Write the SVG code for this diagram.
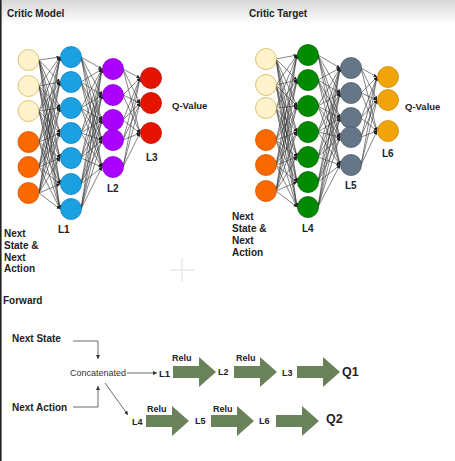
<svg xmlns="http://www.w3.org/2000/svg" width="455" height="461" viewBox="0 0 455 461">
<defs>
<linearGradient id="band" x1="0" y1="0" x2="0" y2="1"><stop offset="0" stop-color="#d6d6d6"/><stop offset="1" stop-color="#ffffff"/></linearGradient>
<marker id="ah" viewBox="0 0 4 4" refX="4" refY="2" markerWidth="3.5" markerHeight="3.5" markerUnits="userSpaceOnUse" orient="auto"><path d="M0 0L4 2L0 4z" fill="#222"/></marker>
<marker id="ah2" viewBox="0 0 4 4" refX="4" refY="2" markerWidth="4" markerHeight="4" markerUnits="userSpaceOnUse" orient="auto"><path d="M0 0L4 2L0 4z" fill="#333"/></marker>
<path id="blk" d="M0 -6L26 -6L26 -15L43 0L26 15L26 6L0 6Z"/>
</defs>
<style>
.t{font-family:"Liberation Sans",Arial,sans-serif;font-weight:bold;font-size:10px;fill:#222;dominant-baseline:central}
.s{font-size:9.5px}
.r{font-size:9px}
.q{font-size:12.5px}
.cc{font-family:"Liberation Sans",Arial,sans-serif;font-size:9px;fill:#333;dominant-baseline:central}
.w path{fill:none;stroke:#333;stroke-width:0.6;marker-end:url(#ah)}
.fc path,.fc polyline{fill:none;stroke:#444;stroke-width:0.8;marker-end:url(#ah2)}
.bk{fill:#6a8259}
.pale{fill:#fff2cc;stroke:#d6b656;stroke-width:0.8}
.org{fill:#fa6800;stroke:#d45500;stroke-width:0.8}
.blu{fill:#1ba1e2;stroke:#0a7fc0;stroke-width:0.8}
.pur{fill:#aa00ff;stroke:#8a00d0;stroke-width:0.8}
.red{fill:#e51400;stroke:#c00e00;stroke-width:0.8}
.grn{fill:#008a00;stroke:#006a00;stroke-width:0.8}
.gry{fill:#647687;stroke:#4a5a6a;stroke-width:0.8}
.amb{fill:#f0a30a;stroke:#d08a00;stroke-width:0.8}
</style>
<rect x="0" y="0" width="455" height="461" fill="#ffffff"/>
<rect x="0" y="0" width="455" height="24" fill="url(#band)"/>
<line x1="0.8" y1="0" x2="0.8" y2="461" stroke="#222" stroke-width="1.6"/>
<g stroke="#e8e8e8" stroke-width="1.5"><line x1="170" y1="270" x2="194" y2="270"/><line x1="182" y1="258" x2="182" y2="282"/></g>

<text class="t" x="7" y="13">Critic Model</text>
<text class="t" x="249" y="13">Critic Target</text>

<g id="connectors">
<g class="w" id="net1-links">
<path d="M39 60 60 57"/><path d="M39 60 60 82"/><path d="M39 60 60 108"/><path d="M39 60 60 133"/><path d="M39 60 60 158"/><path d="M39 60 60 184"/><path d="M39 60 60 209"/>
<path d="M39 86 60 57"/><path d="M39 86 60 82"/><path d="M39 86 60 108"/><path d="M39 86 60 133"/><path d="M39 86 60 158"/><path d="M39 86 60 184"/><path d="M39 86 60 209"/>
<path d="M39 111 60 57"/><path d="M39 111 60 82"/><path d="M39 111 60 108"/><path d="M39 111 60 133"/><path d="M39 111 60 158"/><path d="M39 111 60 184"/><path d="M39 111 60 209"/>
<path d="M39 142 60 57"/><path d="M39 142 60 82"/><path d="M39 142 60 108"/><path d="M39 142 60 133"/><path d="M39 142 60 158"/><path d="M39 142 60 184"/><path d="M39 142 60 209"/>
<path d="M39 167 60 57"/><path d="M39 167 60 82"/><path d="M39 167 60 108"/><path d="M39 167 60 133"/><path d="M39 167 60 158"/><path d="M39 167 60 184"/><path d="M39 167 60 209"/>
<path d="M39 193 60 57"/><path d="M39 193 60 82"/><path d="M39 193 60 108"/><path d="M39 193 60 133"/><path d="M39 193 60 158"/><path d="M39 193 60 184"/><path d="M39 193 60 209"/>
<path d="M81 57 102 69"/><path d="M81 57 102 95"/><path d="M81 57 102 120"/><path d="M81 57 102 140"/><path d="M81 57 102 167"/>
<path d="M81 82 102 69"/><path d="M81 82 102 95"/><path d="M81 82 102 120"/><path d="M81 82 102 140"/><path d="M81 82 102 167"/>
<path d="M81 108 102 69"/><path d="M81 108 102 95"/><path d="M81 108 102 120"/><path d="M81 108 102 140"/><path d="M81 108 102 167"/>
<path d="M81 133 102 69"/><path d="M81 133 102 95"/><path d="M81 133 102 120"/><path d="M81 133 102 140"/><path d="M81 133 102 167"/>
<path d="M81 158 102 69"/><path d="M81 158 102 95"/><path d="M81 158 102 120"/><path d="M81 158 102 140"/><path d="M81 158 102 167"/>
<path d="M81 184 102 69"/><path d="M81 184 102 95"/><path d="M81 184 102 120"/><path d="M81 184 102 140"/><path d="M81 184 102 167"/>
<path d="M81 209 102 69"/><path d="M81 209 102 95"/><path d="M81 209 102 120"/><path d="M81 209 102 140"/><path d="M81 209 102 167"/>
<path d="M123 69 140 78"/><path d="M123 69 140 103"/><path d="M123 69 140 133"/>
<path d="M123 95 140 78"/><path d="M123 95 140 103"/><path d="M123 95 140 133"/>
<path d="M123 120 140 78"/><path d="M123 120 140 103"/><path d="M123 120 140 133"/>
<path d="M123 140 140 78"/><path d="M123 140 140 103"/><path d="M123 140 140 133"/>
<path d="M123 167 140 78"/><path d="M123 167 140 103"/><path d="M123 167 140 133"/>
</g>
<g class="w" id="net2-links">
<path d="M276 59 297 55"/><path d="M276 59 297 80"/><path d="M276 59 297 106"/><path d="M276 59 297 132"/><path d="M276 59 297 157"/><path d="M276 59 297 182"/><path d="M276 59 297 207"/>
<path d="M276 85 297 55"/><path d="M276 85 297 80"/><path d="M276 85 297 106"/><path d="M276 85 297 132"/><path d="M276 85 297 157"/><path d="M276 85 297 182"/><path d="M276 85 297 207"/>
<path d="M276 108 297 55"/><path d="M276 108 297 80"/><path d="M276 108 297 106"/><path d="M276 108 297 132"/><path d="M276 108 297 157"/><path d="M276 108 297 182"/><path d="M276 108 297 207"/>
<path d="M276 140 297 55"/><path d="M276 140 297 80"/><path d="M276 140 297 106"/><path d="M276 140 297 132"/><path d="M276 140 297 157"/><path d="M276 140 297 182"/><path d="M276 140 297 207"/>
<path d="M276 165 297 55"/><path d="M276 165 297 80"/><path d="M276 165 297 106"/><path d="M276 165 297 132"/><path d="M276 165 297 157"/><path d="M276 165 297 182"/><path d="M276 165 297 207"/>
<path d="M276 191 297 55"/><path d="M276 191 297 80"/><path d="M276 191 297 106"/><path d="M276 191 297 132"/><path d="M276 191 297 157"/><path d="M276 191 297 182"/><path d="M276 191 297 207"/>
<path d="M318 55 340 68"/><path d="M318 55 340 93"/><path d="M318 55 340 118"/><path d="M318 55 340 137"/><path d="M318 55 340 165"/>
<path d="M318 80 340 68"/><path d="M318 80 340 93"/><path d="M318 80 340 118"/><path d="M318 80 340 137"/><path d="M318 80 340 165"/>
<path d="M318 106 340 68"/><path d="M318 106 340 93"/><path d="M318 106 340 118"/><path d="M318 106 340 137"/><path d="M318 106 340 165"/>
<path d="M318 132 340 68"/><path d="M318 132 340 93"/><path d="M318 132 340 118"/><path d="M318 132 340 137"/><path d="M318 132 340 165"/>
<path d="M318 157 340 68"/><path d="M318 157 340 93"/><path d="M318 157 340 118"/><path d="M318 157 340 137"/><path d="M318 157 340 165"/>
<path d="M318 182 340 68"/><path d="M318 182 340 93"/><path d="M318 182 340 118"/><path d="M318 182 340 137"/><path d="M318 182 340 165"/>
<path d="M318 207 340 68"/><path d="M318 207 340 93"/><path d="M318 207 340 118"/><path d="M318 207 340 137"/><path d="M318 207 340 165"/>
<path d="M361 68 377 77"/><path d="M361 68 377 100"/><path d="M361 68 377 131"/>
<path d="M361 93 377 77"/><path d="M361 93 377 100"/><path d="M361 93 377 131"/>
<path d="M361 118 377 77"/><path d="M361 118 377 100"/><path d="M361 118 377 131"/>
<path d="M361 137 377 77"/><path d="M361 137 377 100"/><path d="M361 137 377 131"/>
<path d="M361 165 377 77"/><path d="M361 165 377 100"/><path d="M361 165 377 131"/>
</g>
<g class="fc" id="forward-links">
<polyline points="73,341 98,341 98,359"/>
<polyline points="73,407 98,407 98,386"/>
<path d="M127 373 157 373"/>
<path d="M105 383 128 415"/>
</g>
<g id="block-arrows" class="bk">
<use href="#blk" x="173" y="372"/>
<use href="#blk" x="234" y="372"/>
<use href="#blk" x="297" y="372"/>
<use href="#blk" x="146" y="421"/>
<use href="#blk" x="211" y="421"/>
<use href="#blk" x="276" y="421"/>
</g>
</g>

<g id="critic-model">
<g id="cm-input"><circle class="pale" cx="28.5" cy="60" r="10.5"/><circle class="pale" cx="28.5" cy="86" r="10.5"/><circle class="pale" cx="28.5" cy="111" r="10.5"/><circle class="org" cx="28.5" cy="142" r="10.5"/><circle class="org" cx="28.5" cy="167" r="10.5"/><circle class="org" cx="28.5" cy="193" r="10.5"/></g>
<g id="cm-L1"><circle class="blu" cx="71" cy="57" r="10.5"/><circle class="blu" cx="71" cy="82" r="10.5"/><circle class="blu" cx="71" cy="108" r="10.5"/><circle class="blu" cx="71" cy="133" r="10.5"/><circle class="blu" cx="71" cy="158" r="10.5"/><circle class="blu" cx="71" cy="184" r="10.5"/><circle class="blu" cx="71" cy="209" r="10.5"/></g>
<g id="cm-L2"><circle class="pur" cx="113" cy="69" r="10.5"/><circle class="pur" cx="113" cy="95" r="10.5"/><circle class="pur" cx="113" cy="120" r="10.5"/><circle class="pur" cx="113" cy="140" r="10.5"/><circle class="pur" cx="113" cy="167" r="10.5"/></g>
<g id="cm-L3"><circle class="red" cx="151" cy="78" r="10.5"/><circle class="red" cx="151" cy="103" r="10.5"/><circle class="red" cx="151" cy="133" r="10.5"/></g>
<text class="t s" x="172" y="105">Q-Value</text>
<text class="t" x="146" y="157">L3</text>
<text class="t" x="107" y="188">L2</text>
<text class="t" x="58" y="229">L1</text>
<text class="t"><tspan x="4" y="233">Next</tspan><tspan x="4" y="245">State &amp;</tspan><tspan x="4" y="257">Next</tspan><tspan x="4" y="268">Action</tspan></text>
</g>

<g id="critic-target">
<g id="ct-input"><circle class="pale" cx="266" cy="59" r="10.5"/><circle class="pale" cx="266" cy="85" r="10.5"/><circle class="pale" cx="266" cy="108" r="10.5"/><circle class="org" cx="266" cy="140" r="10.5"/><circle class="org" cx="266" cy="165" r="10.5"/><circle class="org" cx="266" cy="191" r="10.5"/></g>
<g id="ct-L4"><circle class="grn" cx="308" cy="55" r="10.5"/><circle class="grn" cx="308" cy="80" r="10.5"/><circle class="grn" cx="308" cy="106" r="10.5"/><circle class="grn" cx="308" cy="132" r="10.5"/><circle class="grn" cx="308" cy="157" r="10.5"/><circle class="grn" cx="308" cy="182" r="10.5"/><circle class="grn" cx="308" cy="207" r="10.5"/></g>
<g id="ct-L5"><circle class="gry" cx="351" cy="68" r="10.5"/><circle class="gry" cx="351" cy="93" r="10.5"/><circle class="gry" cx="351" cy="118" r="10.5"/><circle class="gry" cx="351" cy="137" r="10.5"/><circle class="gry" cx="351" cy="165" r="10.5"/></g>
<g id="ct-L6"><circle class="amb" cx="388" cy="77" r="10.5"/><circle class="amb" cx="388" cy="100" r="10.5"/><circle class="amb" cx="388" cy="131" r="10.5"/></g>
<text class="t s" x="405" y="106">Q-Value</text>
<text class="t" x="382" y="153">L6</text>
<text class="t" x="345" y="185">L5</text>
<text class="t" x="302" y="228">L4</text>
<text class="t"><tspan x="232" y="216">Next</tspan><tspan x="232" y="228">State &amp;</tspan><tspan x="232" y="240">Next</tspan><tspan x="232" y="252">Action</tspan></text>
</g>

<g id="forward">
<text class="t" x="3" y="300">Forward</text>
<g id="f-next-state"><text class="t" x="12" y="338">Next State</text></g>
<g id="f-next-action"><text class="t" x="12" y="407">Next Action</text></g>
<g id="f-concat"><text class="cc" x="70" y="373">Concatenated</text></g>
<g id="f-L1"><text class="t s" x="159" y="373">L1</text></g>
<g id="f-L2"><text class="t r" x="218" y="372">L2</text></g>
<g id="f-L3"><text class="t r" x="282" y="373">L3</text></g>
<g id="f-Q1"><text class="t q" x="342" y="372">Q1</text></g>
<g id="f-L4"><text class="t r" x="132" y="422">L4</text></g>
<g id="f-L5"><text class="t r" x="195" y="421">L5</text></g>
<g id="f-L6"><text class="t r" x="259" y="421">L6</text></g>
<g id="f-Q2"><text class="t q" x="326" y="419">Q2</text></g>
<text class="t r" x="172" y="358">Relu</text>
<text class="t r" x="236" y="358">Relu</text>
<text class="t r" x="147" y="409">Relu</text>
<text class="t r" x="213" y="409">Relu</text>
</g>
</svg>
